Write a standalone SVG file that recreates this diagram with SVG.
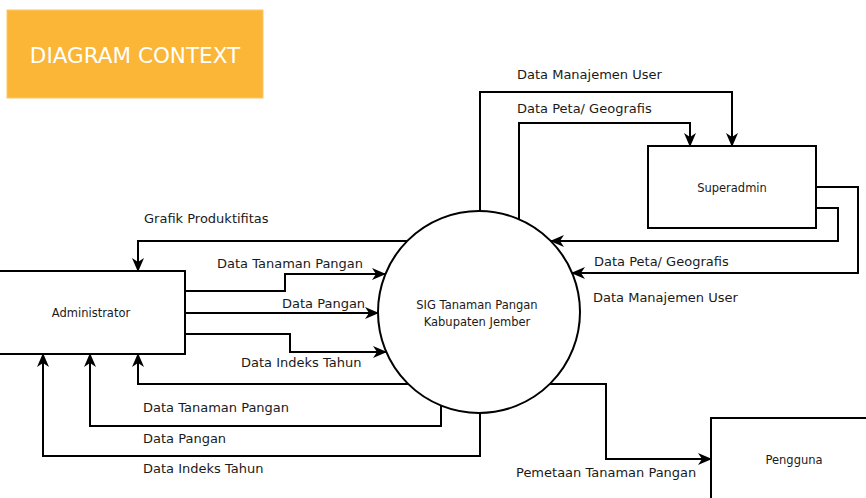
<svg xmlns="http://www.w3.org/2000/svg" width="866" height="498" viewBox="0 0 866 498">
<defs>
<style>
.node{fill:#fff;stroke:#000;stroke-width:2}
.conn{fill:none;stroke:#000;stroke-width:2;marker-end:url(#arr)}
.lbl{font-family:"DejaVu Sans",Verdana,sans-serif;font-size:13px;fill:#1a1a1a}
.ntxt{font-family:"DejaVu Sans",Verdana,sans-serif;font-size:11.5px;fill:#1a1a1a;text-anchor:middle}
</style>
<marker id="arr" viewBox="0 0 14 12" refX="13" refY="6" markerWidth="14" markerHeight="12" markerUnits="userSpaceOnUse" orient="auto">
<path d="M0,0 L14,6 L0,12 L4,6 z" fill="#000"/>
</marker>
</defs>
<rect width="866" height="498" fill="#fff"/>
<g id="title">
<rect x="7" y="10" width="256" height="88" fill="#FBB637" stroke="#FCC767" stroke-width="1"/>
<text x="135" y="63" font-family="DejaVu Sans,Verdana,sans-serif" font-size="21.5" fill="#fff" text-anchor="middle">DIAGRAM CONTEXT</text>
</g>
<g id="administrator">
<rect class="node" x="-1" y="271" width="186" height="83"/>
<text class="ntxt" x="91" y="317">Administrator</text>
</g>
<g id="sig">
<circle class="node" cx="479" cy="312" r="101"/>
<text class="ntxt" x="477" y="309" font-size="12">SIG Tanaman Pangan</text>
<text class="ntxt" x="477" y="326" font-size="12">Kabupaten Jember</text>
</g>
<g id="superadmin">
<rect class="node" x="648" y="146" width="168" height="82"/>
<text class="ntxt" x="732" y="192">Superadmin</text>
</g>
<g id="pengguna">
<rect class="node" x="711" y="418" width="170" height="100"/>
<text class="ntxt" x="794" y="464">Pengguna</text>
</g>
<g id="connectors">
<path class="conn" d="M480,211 V92 H732 V146"/>
<path class="conn" d="M519,219 V123 H690 V146"/>
<path class="conn" d="M816,208 H838 V241 H551"/>
<path class="conn" d="M816,187 H858 V273 H572"/>
<path class="conn" d="M407,241 H138 V271"/>
<path class="conn" d="M185,291 H285 V274 H385"/>
<path class="conn" d="M185,313 H378"/>
<path class="conn" d="M185,334 H290 V352 H386"/>
<path class="conn" d="M408,384 H138 V354"/>
<path class="conn" d="M441,406 V426 H90 V354"/>
<path class="conn" d="M480,413 V456 H43 V354"/>
<path class="conn" d="M550,384 H606 V459 H711"/>
</g>
<g id="labels">
<text class="lbl" x="517" y="79">Data Manajemen User</text>
<text class="lbl" x="517" y="113">Data Peta/ Geografis</text>
<text class="lbl" x="594" y="266">Data Peta/ Geografis</text>
<text class="lbl" x="593" y="302">Data Manajemen User</text>
<text class="lbl" x="144" y="223">Grafik Produktifitas</text>
<text class="lbl" x="217" y="268">Data Tanaman Pangan</text>
<text class="lbl" x="282" y="308">Data Pangan</text>
<text class="lbl" x="241" y="367">Data Indeks Tahun</text>
<text class="lbl" x="143" y="412">Data Tanaman Pangan</text>
<text class="lbl" x="143" y="443">Data Pangan</text>
<text class="lbl" x="143" y="473">Data Indeks Tahun</text>
<text class="lbl" x="516" y="477">Pemetaan Tanaman Pangan</text>
</g>
</svg>
